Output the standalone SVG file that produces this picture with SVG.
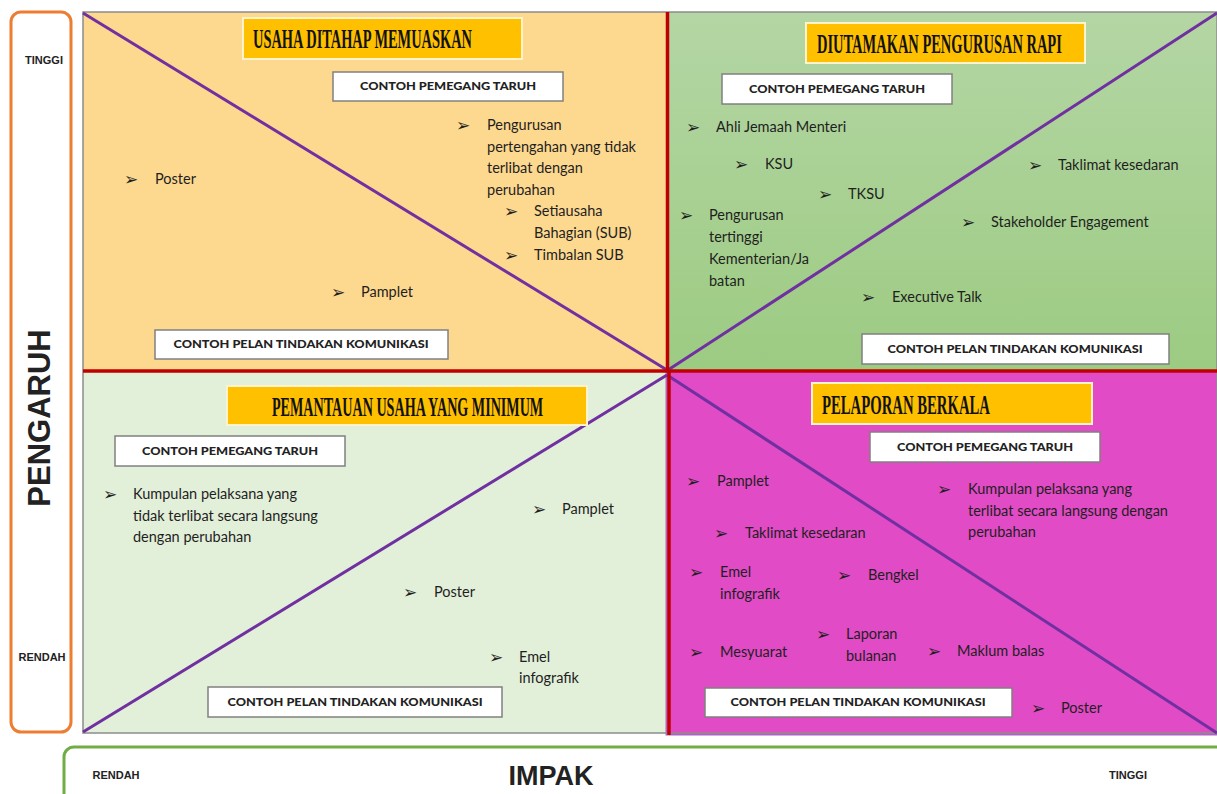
<svg xmlns="http://www.w3.org/2000/svg" width="1217" height="794" viewBox="0 0 1217 794">
<defs>
<linearGradient id="gTR" x1="0" y1="0" x2="0" y2="1">
<stop offset="0" stop-color="#b4d6a4"/>
<stop offset="1" stop-color="#9ccb82"/>
</linearGradient>
</defs>
<style>
.b{font-family:Lato,"Open Sans","DejaVu Sans",sans-serif;font-size:14.5px;fill:#1f1f1f}
.ar{font-family:"DejaVu Sans",sans-serif;font-size:17px;fill:#1f1f1f}
.hd{font-family:"Liberation Serif",serif;font-weight:bold;font-size:27px;fill:#111}
.lb{font-family:Lato,"DejaVu Sans",sans-serif;font-weight:900;font-size:11px;fill:#222}
.ax{font-family:"Liberation Sans",Arial,sans-serif;font-weight:bold;fill:#222}
.wbox{fill:#fff;stroke:#808080;stroke-width:1.5}
.ybox{fill:#ffc000;stroke:#fff3cc;stroke-width:2}
.red{stroke:#c00000;stroke-width:3.5;fill:none}
.pur{stroke:#7030a0;stroke-width:3;fill:none}
</style>
<rect width="1217" height="794" fill="#fff"/>

<!-- axis frames -->
<g id="axis-pengaruh">
<rect x="11" y="12" width="60" height="720" rx="10" fill="#fff" stroke="#ed7d31" stroke-width="3"/>
<text class="ax" x="44" y="64" font-size="11" text-anchor="middle">TINGGI</text>
<text class="ax" x="42" y="661" font-size="11" text-anchor="middle">RENDAH</text>
<text class="ax" font-size="31" text-anchor="middle" transform="translate(50,418) rotate(-90)">PENGARUH</text>
</g>
<g id="axis-impak">
<rect x="64" y="747" width="1170" height="70" rx="10" fill="#fff" stroke="#70ad47" stroke-width="3"/>
<text class="ax" x="116" y="779" font-size="11" text-anchor="middle">RENDAH</text>
<text class="ax" x="551" y="785" font-size="27" text-anchor="middle">IMPAK</text>
<text class="ax" x="1128" y="779" font-size="11" text-anchor="middle">TINGGI</text>
</g>

<!-- quadrant backgrounds -->
<g id="q-tl-bg"><rect x="83" y="12" width="585" height="359" fill="#fdd88f"/></g>
<g id="q-tr-bg"><rect x="668" y="12" width="549" height="359" fill="url(#gTR)"/></g>
<g id="q-bl-bg"><rect x="83" y="371" width="585" height="362" fill="#e2efd9"/></g>
<g id="q-br-bg"><rect x="666" y="371" width="551" height="364" fill="#e14bc6" stroke="#9a6fc8" stroke-width="1"/></g>
<rect x="83" y="12" width="1134" height="721" fill="none" stroke="#8c8c8c" stroke-width="1.5"/>

<!-- lines -->
<g id="connectors">
<line class="pur" x1="83" y1="13" x2="667" y2="370"/>
<line class="pur" x1="668" y1="370" x2="1217" y2="13"/>
<line class="pur" x1="83" y1="732" x2="667" y2="375"/>
<line class="pur" x1="667" y1="375" x2="1217" y2="733"/>
<line class="red" x1="83" y1="371" x2="1217" y2="371"/>
<line class="red" x1="667.5" y1="12" x2="667.5" y2="372"/>
<line class="red" x1="669" y1="371" x2="669" y2="735"/>
</g>

<!-- Top-left quadrant -->
<g id="q-tl">
<rect class="ybox" x="243" y="18" width="279" height="41"/>
<text class="hd" transform="translate(253,48) scale(0.6,1)" textLength="365" lengthAdjust="spacingAndGlyphs">USAHA DITAHAP MEMUASKAN</text>
<rect class="wbox" x="333" y="72" width="230" height="29"/>
<text class="lb" x="448" y="90" text-anchor="middle" textLength="176" lengthAdjust="spacingAndGlyphs">CONTOH PEMEGANG TARUH</text>
<text class="ar" x="124" y="185">➢</text><text class="b" x="155" y="184">Poster</text>
<text class="ar" x="456" y="131">➢</text>
<text class="b" x="487" y="130">Pengurusan</text>
<text class="b" x="487" y="152">pertengahan yang tidak</text>
<text class="b" x="487" y="173">terlibat dengan</text>
<text class="b" x="487" y="195">perubahan</text>
<text class="ar" x="504" y="217">➢</text>
<text class="b" x="534" y="216">Setiausaha</text>
<text class="b" x="534" y="238">Bahagian (SUB)</text>
<text class="ar" x="504" y="261">➢</text><text class="b" x="534" y="260">Timbalan SUB</text>
<text class="ar" x="331" y="298">➢</text><text class="b" x="361" y="297">Pamplet</text>
<rect class="wbox" x="155" y="330" width="293" height="29"/>
<text class="lb" x="301" y="348" text-anchor="middle" textLength="255" lengthAdjust="spacingAndGlyphs">CONTOH PELAN TINDAKAN KOMUNIKASI</text>
</g>

<!-- Top-right quadrant -->
<g id="q-tr">
<rect class="ybox" x="806" y="23" width="279" height="40"/>
<text class="hd" transform="translate(817,53) scale(0.6,1)" textLength="408" lengthAdjust="spacingAndGlyphs">DIUTAMAKAN PENGURUSAN RAPI</text>
<rect class="wbox" x="722" y="74" width="230" height="30"/>
<text class="lb" x="837" y="93" text-anchor="middle" textLength="176" lengthAdjust="spacingAndGlyphs">CONTOH PEMEGANG TARUH</text>
<text class="ar" x="686" y="133">➢</text><text class="b" x="716" y="132">Ahli Jemaah Menteri</text>
<text class="ar" x="734" y="170">➢</text><text class="b" x="765" y="169">KSU</text>
<text class="ar" x="818" y="200">➢</text><text class="b" x="848" y="199">TKSU</text>
<text class="ar" x="679" y="221">➢</text>
<text class="b" x="709" y="220">Pengurusan</text>
<text class="b" x="709" y="242">tertinggi</text>
<text class="b" x="709" y="264">Kementerian/Ja</text>
<text class="b" x="709" y="286">batan</text>
<text class="ar" x="1028" y="171">➢</text><text class="b" x="1058" y="170">Taklimat kesedaran</text>
<text class="ar" x="961" y="228">➢</text><text class="b" x="991" y="227">Stakeholder Engagement</text>
<text class="ar" x="861" y="303">➢</text><text class="b" x="892" y="302">Executive Talk</text>
<rect class="wbox" x="862" y="334" width="307" height="30"/>
<text class="lb" x="1015" y="353" text-anchor="middle" textLength="255" lengthAdjust="spacingAndGlyphs">CONTOH PELAN TINDAKAN KOMUNIKASI</text>
</g>

<!-- Bottom-left quadrant -->
<g id="q-bl">
<rect class="ybox" x="227" y="386" width="360" height="39"/>
<text class="hd" transform="translate(272,416) scale(0.6,1)" textLength="452" lengthAdjust="spacingAndGlyphs">PEMANTAUAN USAHA YANG MINIMUM</text>
<rect class="wbox" x="115" y="436" width="230" height="30"/>
<text class="lb" x="230" y="455" text-anchor="middle" textLength="176" lengthAdjust="spacingAndGlyphs">CONTOH PEMEGANG TARUH</text>
<text class="ar" x="103" y="500">➢</text>
<text class="b" x="133" y="499">Kumpulan pelaksana yang</text>
<text class="b" x="133" y="521">tidak terlibat secara langsung</text>
<text class="b" x="133" y="542">dengan perubahan</text>
<text class="ar" x="532" y="515">➢</text><text class="b" x="562" y="514">Pamplet</text>
<text class="ar" x="403" y="598">➢</text><text class="b" x="434" y="597">Poster</text>
<text class="ar" x="489" y="663">➢</text>
<text class="b" x="519" y="662">Emel</text>
<text class="b" x="519" y="683">infografik</text>
<rect class="wbox" x="208" y="687" width="294" height="30"/>
<text class="lb" x="355" y="706" text-anchor="middle" textLength="255" lengthAdjust="spacingAndGlyphs">CONTOH PELAN TINDAKAN KOMUNIKASI</text>
</g>

<!-- Bottom-right quadrant -->
<g id="q-br">
<rect class="ybox" x="812" y="383" width="280" height="41"/>
<text class="hd" transform="translate(822,414) scale(0.6,1)" textLength="280" lengthAdjust="spacingAndGlyphs">PELAPORAN BERKALA</text>
<rect class="wbox" x="870" y="432" width="230" height="30"/>
<text class="lb" x="985" y="451" text-anchor="middle" textLength="176" lengthAdjust="spacingAndGlyphs">CONTOH PEMEGANG TARUH</text>
<text class="ar" x="686" y="487">➢</text><text class="b" x="717" y="486">Pamplet</text>
<text class="ar" x="714" y="539">➢</text><text class="b" x="745" y="538">Taklimat kesedaran</text>
<text class="ar" x="689" y="578">➢</text>
<text class="b" x="720" y="577">Emel</text>
<text class="b" x="720" y="599">infografik</text>
<text class="ar" x="689" y="658">➢</text><text class="b" x="720" y="657">Mesyuarat</text>
<text class="ar" x="937" y="495">➢</text>
<text class="b" x="968" y="494">Kumpulan pelaksana yang</text>
<text class="b" x="968" y="516">terlibat secara langsung dengan</text>
<text class="b" x="968" y="537">perubahan</text>
<text class="ar" x="837" y="581">➢</text><text class="b" x="868" y="580">Bengkel</text>
<text class="ar" x="816" y="640">➢</text>
<text class="b" x="846" y="639">Laporan</text>
<text class="b" x="846" y="661">bulanan</text>
<text class="ar" x="927" y="657">➢</text><text class="b" x="957" y="656">Maklum balas</text>
<rect class="wbox" x="705" y="688" width="307" height="29"/>
<text class="lb" x="858" y="706" text-anchor="middle" textLength="255" lengthAdjust="spacingAndGlyphs">CONTOH PELAN TINDAKAN KOMUNIKASI</text>
<text class="ar" x="1031" y="714">➢</text><text class="b" x="1061" y="713">Poster</text>
</g>
</svg>
